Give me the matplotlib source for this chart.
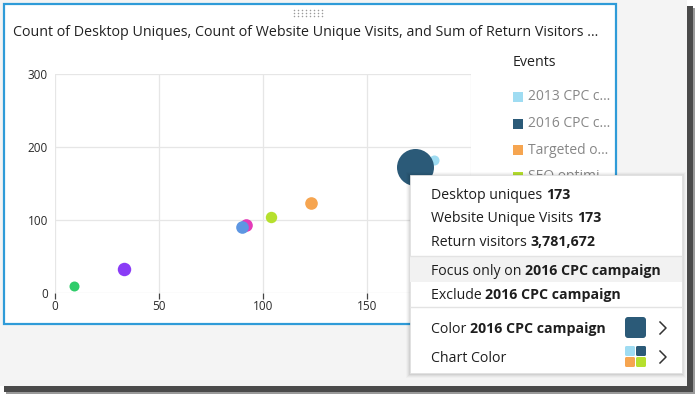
import matplotlib
matplotlib.use("Agg")
import matplotlib.pyplot as plt
from matplotlib.patches import Rectangle, FancyBboxPatch
import numpy as np

plt.rcParams['font.family'] = ['Open Sans', 'DejaVu Sans']

# ---------------- data ----------------
events = ["2013 CPC campaign", "2016 CPC campaign", "Targeted outreach",
          "SEO optimization", "Email newsletter", "Social media push",
          "Webinar series", "Trade show"]
desktop_uniques = [182, 173, 123, 104, 92, 90, 33, 9]
website_unique_visits = [182, 173, 123, 104, 93, 90, 33, 9]
return_visitors = [280000, 3781672, 440000, 360000, 440000, 440000, 500000, 276000]
colors = ["#9fdcf2", "#2b5a78", "#f6a550", "#b6e02e", "#e43bb8", "#5d96e2",
          "#8a3cf6", "#2fcc6a"]
legend_labels = ["2013 CPC c\u2026", "2016 CPC c\u2026", "Targeted o\u2026", "SEO optimi\u2026"]
x_ticks = [0, 50, 100, 150]
y_ticks = [0, 100, 200, 300]
title = "Count of Desktop Uniques, Count of Website Unique Visits, and Sum of Return Visitors \u2026"

W, H = 700, 395
fig = plt.figure(figsize=(W / 100, H / 100), dpi=100)
fig.patch.set_facecolor("white")

def px_axes(z):
    a = fig.add_axes([0, 0, 1, 1], zorder=z)
    a.set_xlim(0, W)
    a.set_ylim(H, 0)
    a.axis("off")
    a.patch.set_alpha(0)
    return a

bg = px_axes(0)
# screenshot gray background and shadows
bg.add_patch(Rectangle((0, 0), 687, 386, facecolor="#f4f4f4", edgecolor="none"))
bg.add_patch(Rectangle((687, 6), 6, 386, facecolor="#4a4a4a", edgecolor="none"))
bg.add_patch(Rectangle((693, 8), 2, 384, facecolor="#9a9a9a", edgecolor="none"))
bg.add_patch(Rectangle((4, 386), 689, 6, facecolor="#4a4a4a", edgecolor="none"))
bg.add_patch(Rectangle((6, 392), 689, 2, facecolor="#9a9a9a", edgecolor="none"))
# panel
bg.add_patch(Rectangle((3.5, 3.5), 612, 320, facecolor="white", edgecolor="#2f9bd8", lw=1.6))
# drag handle dots
for yy in (10, 13, 16):
    bg.scatter(np.arange(294, 326, 4), [yy] * 8, s=1.2, color="#9a9a9a", lw=0)
bg.text(13, 32, title, fontsize=10.3, color="#222222", va="center", ha="left")

# legend
bg.text(513, 62, "Events", fontsize=10.3, color="#222222", va="center", ha="left")
for i, lab in enumerate(legend_labels):
    yc = 97 + i * 26.5
    bg.add_patch(Rectangle((513, yc - 5), 10, 10, facecolor=colors[i], edgecolor="none"))
    bg.text(528, yc, lab, fontsize=10, color="#878787", va="center", ha="left")

# ---------------- chart ----------------
ax = fig.add_axes([55 / W, 1 - 293 / H, (471 - 55) / W, (293 - 74) / H], zorder=2)
ax.patch.set_alpha(0)
ax.set_xlim(0, 200)
ax.set_ylim(0, 300)
rmax = 18.5
vmax = max(return_visitors)
for xv, yv, rv, c in zip(desktop_uniques, website_unique_visits, return_visitors, colors):
    r = rmax * np.sqrt(rv / vmax)
    ax.scatter([xv], [yv], s=(2 * r * 0.72) ** 2, color=c, lw=0, zorder=3)
ax.set_xticks(x_ticks + [200])
ax.set_xticklabels([str(t) for t in x_ticks] + [""])
ax.set_yticks(y_ticks)
ax.set_yticklabels([str(t) for t in y_ticks])
ax.grid(True, color="#e6e6e6", lw=0.9)
for s in ax.spines.values():
    s.set_visible(False)
ax.tick_params(axis="x", length=4, width=0.9, color="#444444", labelsize=8.5, labelcolor="#2a2a2a", pad=1)
ax.tick_params(axis="y", length=0, labelsize=8.5, labelcolor="#2a2a2a", pad=5)
ax.set_axisbelow(True)

# ---------------- popup menu ----------------
ov = px_axes(5)
for k, a in enumerate([0.05, 0.04, 0.03, 0.02]):
    d = k + 1
    ov.add_patch(Rectangle((410 - d, 175 - d + 1), 272 + 2 * d, 198 + 2 * d,
                           facecolor="black", alpha=a, edgecolor="none"))
ov.add_patch(Rectangle((410, 175), 272, 198, facecolor="white", edgecolor="#e0e0e0", lw=0.6))
ov.add_patch(Rectangle((410, 256), 272, 26, facecolor="#f2f2f2", edgecolor="none"))
ov.plot([410, 682], [256, 256], color="#e3e3e3", lw=1)
ov.plot([410, 682], [307, 307], color="#e3e3e3", lw=1)

fig.canvas.draw()
renderer = fig.canvas.get_renderer()
inv = ov.transData.inverted()

def mixed(y, normal, bold):
    yb = y + 5
    t = ov.text(431, yb, normal, fontsize=10.2, color="#1e1e1e", va="baseline", ha="left")
    if bold:
        bb = t.get_window_extent(renderer)
        x1 = inv.transform((bb.x1, bb.y0))[0]
        ov.text(x1, yb, bold, fontsize=10.2, fontweight="bold", color="#1e1e1e",
                va="baseline", ha="left")

mixed(194, "Desktop uniques ", "173")
mixed(217, "Website Unique Visits ", "173")
mixed(241, "Return visitors ", "3,781,672")
mixed(270, "Focus only on ", "2016 CPC campaign")
mixed(294, "Exclude ", "2016 CPC campaign")
mixed(328, "Color ", "2016 CPC campaign")
mixed(357, "Chart Color", "")

ov.add_patch(FancyBboxPatch((625, 317), 21, 21, boxstyle="round,pad=0,rounding_size=3",
                            facecolor=colors[1], edgecolor="none"))
for (dx, dy), c in zip([(0, 0), (11, 0), (0, 11), (11, 11)], [colors[0], colors[1], colors[2], colors[3]]):
    ov.add_patch(FancyBboxPatch((625 + dx, 346 + dy), 10, 10, boxstyle="round,pad=0,rounding_size=1.5",
                                facecolor=c, edgecolor="none"))
for yc in (328, 357):
    ov.plot([660, 666, 660], [yc - 6, yc, yc + 6], color="#333333", lw=1.1)

fig.savefig("out.png", dpi=100)
